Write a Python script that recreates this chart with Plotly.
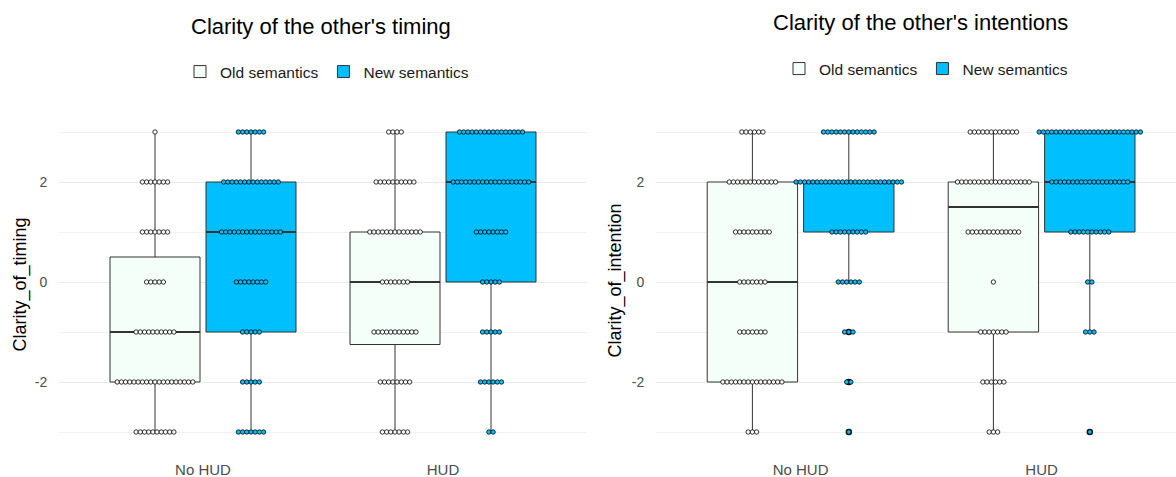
import numpy as np
import plotly.graph_objects as go

# ---------------- data ----------------
levels = [3, 2, 1, 0, -1, -2, -3]
groups = ["No HUD", "HUD"]
semantics = ["Old semantics", "New semantics"]
titles = ["Clarity of the other's timing", "Clarity of the other's intentions"]
ytitles = ["Clarity_of_timing", "Clarity_of_intention"]
yticks = [-2, 0, 2]

# number of responses at each level (3 .. -3)
timing_old_nohud = [1, 7, 7, 5, 10, 19, 10]
timing_new_nohud = [7, 14, 15, 8, 5, 5, 7]
timing_old_hud = [4, 10, 13, 7, 11, 8, 7]
timing_new_hud = [16, 19, 8, 5, 5, 6, 2]
intent_old_nohud = [6, 12, 9, 7, 7, 15, 3]
intent_new_nohud = [13, 26, 9, 6, 3, 2, 1]
intent_old_hud = [12, 18, 13, 1, 7, 6, 3]
intent_new_hud = [25, 19, 10, 2, 3, 0, 1]

panels = [
    {"Old semantics": [timing_old_nohud, timing_old_hud],
     "New semantics": [timing_new_nohud, timing_new_hud]},
    {"Old semantics": [intent_old_nohud, intent_old_hud],
     "New semantics": [intent_new_nohud, intent_new_hud]},
]

# ---------------- style ----------------
fills = {"Old semantics": "#F5FFFA", "New semantics": "#00BFFF"}
FONT = "Liberation Sans, Arial, sans-serif"
W, H = 1176, 477
box_w = 0.375
dodge = 0.2
dot_step = 0.0175

fig = go.Figure()

# axis geometry (pixels)
x_dom_px = [(59, 587), (656, 1176)]
x_ranges = [[0.4, 2.6], [0.4, 0.4 + (1176 - 656) / 241.0]]
y_dom = [(477 - 447) / H, (477 - 117) / H]


def stats(vals):
    q1, med, q3 = np.percentile(vals, [25, 50, 75])
    iqr = q3 - q1
    lo = vals[vals >= q1 - 1.5 * iqr].min()
    hi = vals[vals <= q3 + 1.5 * iqr].max()
    out = vals[(vals < q1 - 1.5 * iqr) | (vals > q3 + 1.5 * iqr)]
    return q1, med, q3, lo, hi, out


for p, panel in enumerate(panels):
    xa = "x" if p == 0 else "x2"
    ya = "y" if p == 0 else "y2"
    leg = "legend" if p == 0 else "legend2"
    for s, sem in enumerate(semantics):
        off = -dodge if s == 0 else dodge
        pos, Q1, MED, Q3, LO, HI = [], [], [], [], [], []
        mx, my = [], []
        ox, oy = [], []
        dx, dy = [], []
        for g, counts in enumerate(panel[sem]):
            vals = np.repeat(levels, counts).astype(float)
            q1, med, q3, lo, hi, out = stats(vals)
            c = g + 1 + off
            pos.append(c); Q1.append(q1); MED.append(med); Q3.append(q3)
            LO.append(lo); HI.append(hi)
            mx += [c - box_w / 2, c + box_w / 2, None]
            my += [med, med, None]
            for v in np.unique(out):
                ox.append(c); oy.append(v)
            for lev, n in zip(levels, counts):
                for i in range(n):
                    dx.append(c + (i - (n - 1) / 2) * dot_step)
                    dy.append(lev)
        fig.add_trace(go.Box(
            x=pos, q1=Q1, median=MED, q3=Q3, lowerfence=LO, upperfence=HI,
            width=box_w, fillcolor=fills[sem], whiskerwidth=0,
            line=dict(color="#333333", width=1), boxpoints=False,
            name=sem, legend=leg, xaxis=xa, yaxis=ya, hoverinfo="skip"))
        fig.add_trace(go.Scatter(
            x=mx, y=my, mode="lines", line=dict(color="#333333", width=2.2),
            showlegend=False, xaxis=xa, yaxis=ya, hoverinfo="skip"))
        if ox:
            fig.add_trace(go.Scatter(
                x=ox, y=oy, mode="markers",
                marker=dict(size=6.5, color="#111111"),
                showlegend=False, xaxis=xa, yaxis=ya, hoverinfo="skip"))
        fig.add_trace(go.Scatter(
            x=dx, y=dy, mode="markers",
            marker=dict(size=4.4, color="white" if s == 0 else fills[sem],
                        line=dict(color="black", width=0.8)),
            showlegend=False, xaxis=xa, yaxis=ya, hoverinfo="skip"))

axis_common_x = dict(
    tickmode="array", tickvals=[1, 2], ticktext=groups, showgrid=False,
    zeroline=False, showline=False, ticks="outside", ticklen=9,
    tickcolor="rgba(0,0,0,0)", tickfont=dict(family=FONT, size=15, color="#4D4D4D"))
axis_common_y = dict(
    range=[-3.3, 3.3], tickmode="array", tickvals=yticks,
    ticktext=[str(t) for t in yticks], showgrid=True, gridcolor="#EBEBEB",
    gridwidth=1, zeroline=False, showline=False, ticks="outside", ticklen=8,
    tickcolor="rgba(0,0,0,0)", tickfont=dict(family=FONT, size=14, color="#4D4D4D"),
    minor=dict(tickvals=[-3, -1, 1, 3], showgrid=True, gridcolor="#F1F1F1", gridwidth=1),
    domain=y_dom)

fig.update_layout(
    width=W, height=H, margin=dict(l=0, r=0, t=0, b=0),
    paper_bgcolor="white", plot_bgcolor="white", boxmode="overlay",
    xaxis=dict(domain=[x_dom_px[0][0] / W, x_dom_px[0][1] / W], range=x_ranges[0], **axis_common_x),
    xaxis2=dict(domain=[x_dom_px[1][0] / W, 1.0], range=x_ranges[1], anchor="y2", **axis_common_x),
    yaxis=dict(anchor="x", **axis_common_y),
    yaxis2=dict(anchor="x2", **axis_common_y),
    legend=dict(orientation="h", x=327 / W, y=(477 - 72) / H, xanchor="center", yanchor="middle",
                font=dict(family=FONT, size=15.5, color="#1a1a1a"), itemwidth=30,
                bgcolor="rgba(0,0,0,0)"),
    legend2=dict(orientation="h", x=926 / W, y=(477 - 69) / H, xanchor="center", yanchor="middle",
                 font=dict(family=FONT, size=15.5, color="#1a1a1a"), itemwidth=30,
                 bgcolor="rgba(0,0,0,0)"),
)

annos = [
    dict(text=titles[0], x=321 / W, y=(477 - 27) / H, font=dict(size=22)),
    dict(text=titles[1], x=920 / W, y=(477 - 23) / H, font=dict(size=22)),
    dict(text=ytitles[0], x=20 / W, y=(477 - 284.5) / H, textangle=-90, font=dict(size=18)),
    dict(text=ytitles[1], x=615 / W, y=(477 - 280.5) / H, textangle=-90, font=dict(size=18)),
]
for a in annos:
    a["font"].update(family=FONT, color="black")
    fig.add_annotation(xref="paper", yref="paper", showarrow=False,
                       xanchor="center", yanchor="middle", **a)

fig.write_html("out.html", config={"displayModeBar": False},
               post_script="document.body.style.margin='0';document.body.style.padding='0';")
